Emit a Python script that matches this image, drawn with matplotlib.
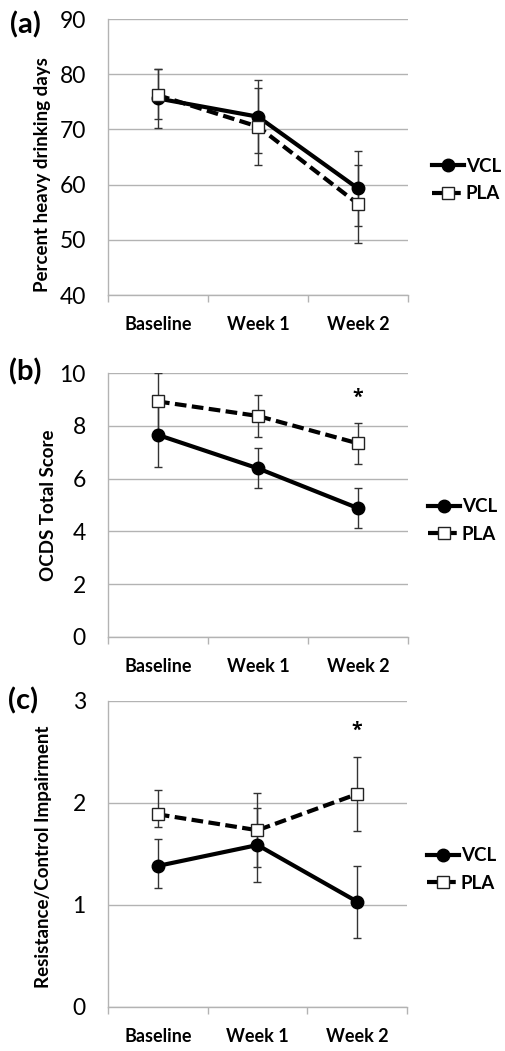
import matplotlib
matplotlib.use("Agg")
import matplotlib.pyplot as plt
from matplotlib.ticker import FixedLocator

# ---------------- data ----------------
categories = ["Baseline", "Week 1", "Week 2"]
series_names = ["VCL", "PLA"]

# (a) Percent heavy drinking days
a_vcl = [75.6, 72.3, 59.3]
a_vcl_lo = [5.4, 6.6, 6.8]
a_vcl_hi = [5.3, 6.6, 6.8]
a_pla = [76.2, 70.5, 56.5]
a_pla_lo = [4.4, 7.0, 7.0]
a_pla_hi = [4.7, 7.0, 7.0]
a_yticks = [40, 50, 60, 70, 80, 90]

# (b) OCDS Total Score
b_vcl = [7.66, 6.39, 4.88]
b_vcl_lo = [1.21, 0.76, 0.75]
b_vcl_hi = [1.21, 0.76, 0.78]
b_pla = [8.93, 8.38, 7.34]
b_pla_lo = [1.1, 0.79, 0.78]
b_pla_hi = [1.1, 0.80, 0.78]
b_yticks = [0, 2, 4, 6, 8, 10]

# (c) Resistance/Control Impairment
c_vcl = [1.38, 1.585, 1.03]
c_vcl_lo = [0.22, 0.36, 0.36]
c_vcl_hi = [0.26, 0.36, 0.35]
c_pla = [1.886, 1.73, 2.085]
c_pla_lo = [0.12, 0.36, 0.365]
c_pla_hi = [0.235, 0.37, 0.365]
c_yticks = [0, 1, 2, 3]

panels = [
    dict(tag="(a)", ylabel="Percent heavy drinking days", yticks=a_yticks,
         vcl=a_vcl, vcl_lo=a_vcl_lo, vcl_hi=a_vcl_hi,
         pla=a_pla, pla_lo=a_pla_lo, pla_hi=a_pla_hi, star=None),
    dict(tag="(b)", ylabel="OCDS Total Score", yticks=b_yticks,
         vcl=b_vcl, vcl_lo=b_vcl_lo, vcl_hi=b_vcl_hi,
         pla=b_pla, pla_lo=b_pla_lo, pla_hi=b_pla_hi, star=(2, 9.05)),
    dict(tag="(c)", ylabel="Resistance/Control Impairment", yticks=c_yticks,
         vcl=c_vcl, vcl_lo=c_vcl_lo, vcl_hi=c_vcl_hi,
         pla=c_pla, pla_lo=c_pla_lo, pla_hi=c_pla_hi, star=(2, 2.7)),
]

# ---------------- layout (pixels) ----------------
W, H = 506, 1051
DPI = 100
plt.rcParams['font.family'] = ['Lato', 'DejaVu Sans']

fig = plt.figure(figsize=(W / DPI, H / DPI), dpi=DPI)

ax_px = [  # left, top, right, bottom
    (108, 19, 408, 295),
    (108, 373.3, 408, 636.7),
    (108, 700.7, 407, 1006.7),
]
ylabel_y = [0.437, 0.5, 0.49]
ylabel_x = [51, 57, 52]
tag_pos = [(25, 25), (25, 372), (23, 701)]
legend_pos = [(432, 180), (428, 520.5), (427, 869.5)]

grid_col = "#b3b3b3"
x = list(range(len(categories)))

for i, p in enumerate(panels):
    l, t, r, b = ax_px[i]
    ax = fig.add_axes([l / W, 1 - b / H, (r - l) / W, (b - t) / H])
    ymin, ymax = p["yticks"][0], p["yticks"][-1]
    ax.set_xlim(-0.5, len(categories) - 0.5)
    ax.set_ylim(ymin, ymax)

    # grid
    ax.set_yticks(p["yticks"])
    ax.yaxis.grid(True, color=grid_col, linewidth=1.0)
    ax.set_axisbelow(True)
    for s in ["top", "right"]:
        ax.spines[s].set_visible(False)
    for s in ["left", "bottom"]:
        ax.spines[s].set_color(grid_col)
        ax.spines[s].set_linewidth(1.0)

    # ticks
    ax.set_xticks(x)
    ax.set_xticklabels(categories, fontsize=13, fontweight="bold")
    ax.tick_params(axis="x", length=0, pad=15)
    ax.xaxis.set_minor_locator(FixedLocator([-0.5, 0.5, 1.5, 2.5]))
    ax.tick_params(axis="x", which="minor", length=5, color=grid_col, width=1.0)
    ax.tick_params(axis="y", length=0, pad=16, labelsize=16.5)

    # error bars
    ax.errorbar(x, p["vcl"], yerr=[p["vcl_lo"], p["vcl_hi"]], fmt="none",
                ecolor="#333333", elinewidth=1.0, capsize=3, capthick=1.0, zorder=3)
    ax.errorbar(x, p["pla"], yerr=[p["pla_lo"], p["pla_hi"]], fmt="none",
                ecolor="#333333", elinewidth=1.0, capsize=3, capthick=1.0, zorder=3)

    # lines
    ax.plot(x, p["vcl"], color="black", linewidth=3.0, marker="o",
            markersize=9, markerfacecolor="black", markeredgecolor="black",
            label=series_names[0], zorder=4, clip_on=False)
    ax.plot(x, p["pla"], color="black", linewidth=3.0, linestyle=(0, (2.8, 1.3)),
            marker="s", markersize=8.5, markerfacecolor="white",
            markeredgecolor="#222222", markeredgewidth=1.0,
            label=series_names[1], zorder=5, clip_on=False)

    ax.set_ylabel(p["ylabel"], fontsize=13.5, fontweight="bold")
    ax.yaxis.set_label_coords((ylabel_x[i] - l) / (r - l), ylabel_y[i])

    if p["star"] is not None:
        ax.text(p["star"][0], p["star"][1], "*", ha="center", va="center",
                fontsize=14, fontweight="bold", family=["Open Sans", "DejaVu Sans"])

    lx, ly = legend_pos[i]
    ax.legend(loc="center left",
              bbox_to_anchor=((lx - l) / (r - l), 1 - (ly - t) / (b - t)),
              frameon=False, prop=dict(weight="bold", size=13.5),
              handlelength=1.7, handletextpad=0.1, borderpad=0, borderaxespad=0,
              labelspacing=0.55, markerscale=1.0)

    fig.text(tag_pos[i][0] / W, 1 - tag_pos[i][1] / H, p["tag"],
             fontsize=21, fontweight="bold", ha="center", va="center")

fig.savefig("out.png", dpi=DPI)
